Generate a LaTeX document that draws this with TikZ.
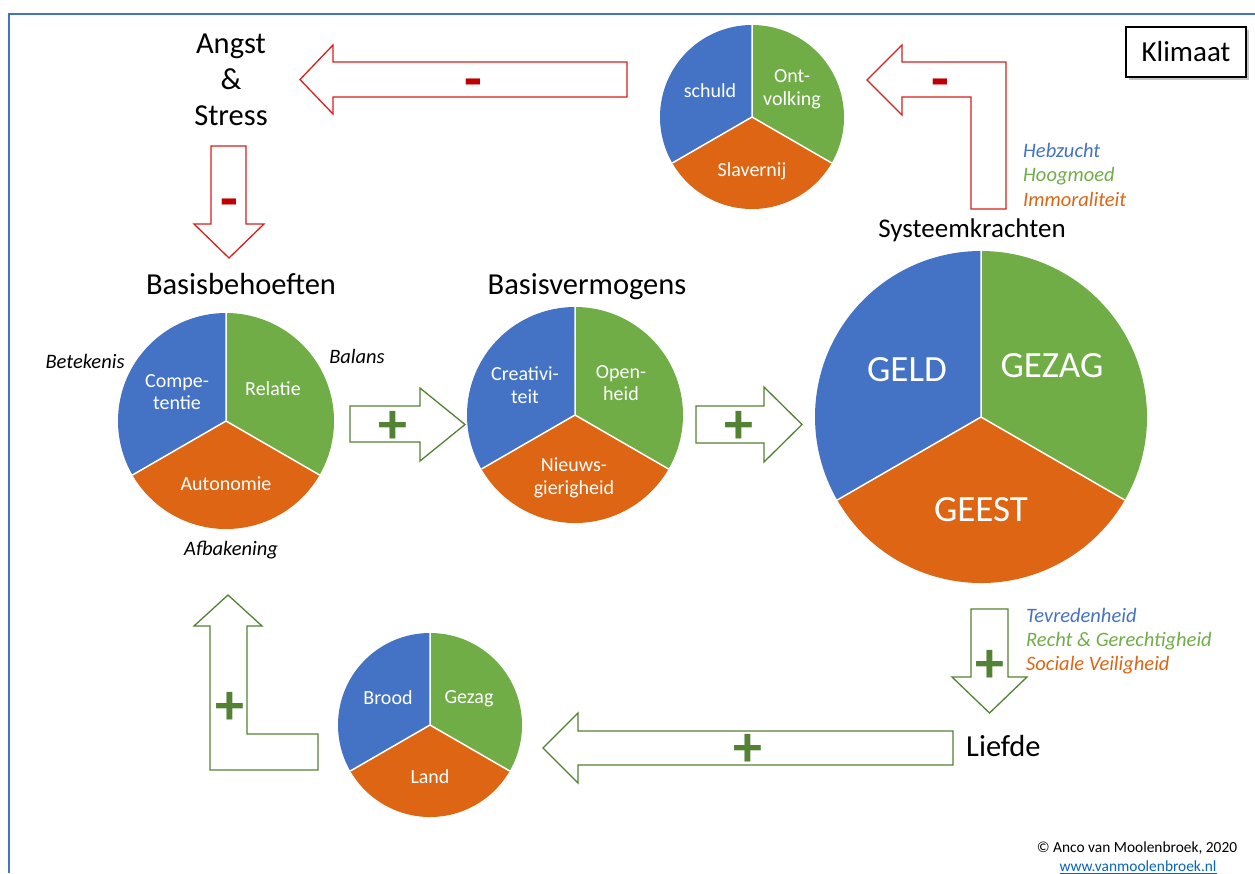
\documentclass[tikz,border=0pt]{standalone}
\usepackage{fontspec}
\setmainfont{Carlito}
\usetikzlibrary{shadows}
\pgfdeclarelayer{edgelayer}
\pgfdeclarelayer{nodelayer}
\pgfsetlayers{edgelayer,nodelayer,main}
\definecolor{pieblue}{HTML}{4472C4}
\definecolor{piegreen}{HTML}{70AD47}
\definecolor{pieorange}{HTML}{DD6513}
\definecolor{arrowred}{HTML}{D81E1E}
\definecolor{signred}{HTML}{C00000}
\definecolor{arrowgreen}{HTML}{548235}
\definecolor{linkblue}{HTML}{0563C1}
\tikzstyle{none}=[inner sep=0pt]
\tikzstyle{frame}=[-,draw=pieblue,line width=1.2]
\tikzstyle{slicegap}=[-,draw=white,line width=1.5]
\tikzstyle{redblock}=[-,draw=arrowred,fill=white,line width=1.3,line join=miter]
\tikzstyle{greenblock}=[-,draw=arrowgreen,fill=white,line width=1.3,line join=miter]
\tikzstyle{heading}=[inner sep=0pt,font=\fontsize{30.5}{36}\selectfont,align=center]
\tikzstyle{subheading}=[inner sep=0pt,font=\fontsize{27}{30}\selectfont]
\tikzstyle{slicetext}=[inner sep=0pt,text=white,font=\fontsize{20}{22.5}\selectfont,align=center]
\tikzstyle{bigtext}=[inner sep=0pt,text=white,font=\fontsize{37}{40}\selectfont]
\tikzstyle{remark}=[inner sep=0pt,font=\fontsize{20.5}{22}\selectfont\itshape]
\tikzstyle{minus}=[inner sep=0pt,text=signred,font=\fontsize{58}{58}\selectfont\bfseries]
\tikzstyle{plus}=[inner sep=0pt,text=arrowgreen,font=\fontsize{58}{58}\selectfont\bfseries]
\tikzstyle{labelbox}=[draw=black,fill=white,line width=1.3,minimum width=120,minimum height=50,font=\fontsize{29}{30}\selectfont,drop shadow={shadow xshift=2.5pt,shadow yshift=-2.5pt,opacity=0.45}]

\begin{document}
\begin{tikzpicture}[x=1pt,y=1pt]
\useasboundingbox (0,0) rectangle (1255,-873);
					\begin{pgfonlayer}{edgelayer}
						\draw [style=frame] (9,-873) -- (9,-14) -- (1255,-14);
						% pies
						\foreach \nm/\cx/\cy/\r in {behoeften/226/-421/108, vermogens/575/-415/108, krachten/981/-417/166, klimaatpie/752/-117/92, liefdepie/430/-725/92} {
							\coordinate (\nm) at (\cx,\cy);
							\fill [pieblue] (\nm) -- ++(90:\r) arc [start angle=90, end angle=210, radius=\r] -- cycle;
							\fill [piegreen] (\nm) -- ++(-30:\r) arc [start angle=-30, end angle=90, radius=\r] -- cycle;
							\fill [pieorange] (\nm) -- ++(210:\r) arc [start angle=210, end angle=330, radius=\r] -- cycle;
							\draw [style=slicegap] (\nm) -- ++(90:\r) (\nm) -- ++(210:\r) (\nm) -- ++(330:\r);
						}
						% red arrows
						\draw [style=redblock] (627,-62) -- (333,-62) -- (333,-45) -- (300,-79.5) -- (333,-114) -- (333,-97) -- (627,-97) -- cycle;
						\draw [style=redblock] (211,-146) -- (246,-146) -- (246,-224) -- (264,-224) -- (229,-258) -- (194,-224) -- (211,-224) -- cycle;
						\draw [style=redblock] (1006,-209) -- (1006,-62) -- (902,-62) -- (902,-45) -- (867,-80) -- (902,-115) -- (902,-97) -- (971,-97) -- (971,-209) -- cycle;
						% green arrows
						\draw [style=greenblock] (350,-406) -- (420,-406) -- (420,-388) -- (465,-424.5) -- (420,-461) -- (420,-442) -- (350,-442) -- cycle;
						\draw [style=greenblock] (696,-406) -- (764,-406) -- (764,-387) -- (802,-424.5) -- (764,-462) -- (764,-443) -- (696,-443) -- cycle;
						\draw [style=greenblock] (971,-609) -- (1008,-609) -- (1008,-677) -- (1027,-677) -- (989.5,-713) -- (952,-677) -- (971,-677) -- cycle;
						\draw [style=greenblock] (953,-731) -- (578,-731) -- (578,-713) -- (543,-748) -- (578,-783) -- (578,-765) -- (953,-765) -- cycle;
						\draw [style=greenblock] (318,-770) -- (318,-734) -- (247,-734) -- (247,-626) -- (262,-626) -- (228,-595) -- (194,-626) -- (210,-626) -- (210,-770) -- cycle;
					\end{pgfonlayer}
					\begin{pgfonlayer}{nodelayer}
						\node [style=heading] (angst) at (231,-80) {Angst\\\&\\Stress};
						\node [style=heading] (basisbehoeften) at (241,-284) {Basisbehoeften};
						\node [style=heading] (basisvermogens) at (587,-287) {Basisvermogens};
						\node [style=subheading] (systeemkrachten) at (972,-230) {Systeemkrachten};
						\node [style=heading,anchor=west] (liefde) at (966,-746) {Liefde};
						\node [style=labelbox] (klimaat) at (1186,-52) {Klimaat};
						% slice texts
						\node [style=slicetext] (competentie) at (177,-392) {Compe-\\tentie};
						\node [style=slicetext] (relatie) at (273,-389) {Relatie};
						\node [style=slicetext] (autonomie) at (226,-484) {Autonomie};
						\node [style=slicetext] (creativiteit) at (525,-385) {Creativi-\\teit};
						\node [style=slicetext] (openheid) at (621,-383) {Open-\\heid};
						\node [style=slicetext] (nieuwsgierig) at (574,-478) {Nieuws-\\gierigheid};
						\node [style=bigtext] (geld) at (907,-370) {GELD};
						\node [style=bigtext] (gezag) at (1052,-366) {GEZAG};
						\node [style=bigtext] (geest) at (981,-510) {GEEST};
						\node [style=slicetext] (schuld) at (710,-91) {schuld};
						\node [style=slicetext] (ontvolking) at (792,-89) {Ont-\\volking};
						\node [style=slicetext] (slavernij) at (752,-171) {Slavernij};
						\node [style=slicetext] (brood) at (388,-698) {Brood};
						\node [style=slicetext] (gezagklein) at (469,-699) {Gezag};
						\node [style=slicetext] (land) at (430,-777) {Land};
						% remarks
						\node [style=remark] (betekenis) at (85,-361) {Betekenis};
						\node [style=remark] (balans) at (357,-356) {Balans};
						\node [style=remark] (afbakening) at (231,-550) {Afbakening};
						\node [style=remark,anchor=west,text=pieblue] (hebzucht) at (1023,-150) {Hebzucht};
						\node [style=remark,anchor=west,text=piegreen] (hoogmoed) at (1023,-176) {Hoogmoed};
						\node [style=remark,anchor=west,text=pieorange] (immoraliteit) at (1023,-199) {Immoraliteit};
						\node [style=remark,anchor=west,text=pieblue] (tevredenheid) at (1026,-615) {Tevredenheid};
						\node [style=remark,anchor=west,text=piegreen] (recht) at (1026,-641) {Recht \& Gerechtigheid};
						\node [style=remark,anchor=west,text=pieorange] (veiligheid) at (1026,-665) {Sociale Veiligheid};
						% signs
						\node [style=minus] (minangst) at (473,-89) {-};
						\node [style=minus] (minbasis) at (229,-209) {-};
						\node [style=minus] (minklimaat) at (940,-89) {-};
						\node [style=plus] (plusbehoeften) at (393,-427) {+};
						\node [style=plus] (plusvermogens) at (739,-427) {+};
						\node [style=plus] (pluskrachten) at (990,-666) {+};
						\node [style=plus] (plusliefde) at (748,-750) {+};
						\node [style=plus] (plusbrood) at (230,-708) {+};
						% footer
						\node [inner sep=0pt,font=\fontsize{15.4}{16}\selectfont] (copyright) at (1137,-848) {© Anco van Moolenbroek, 2020};
						\node [inner sep=0pt,font=\fontsize{15.4}{16}\selectfont,text=linkblue] (website) at (1138,-867) {\underline{www.vanmoolenbroek.nl}};
					\end{pgfonlayer}
\end{tikzpicture}
\end{document}
